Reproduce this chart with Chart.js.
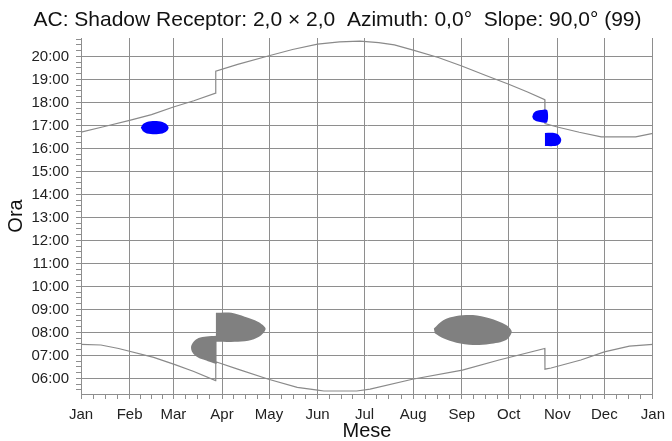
<!DOCTYPE html>
<html>
<head>
<meta charset="utf-8">
<script src="https://cdn.jsdelivr.net/npm/chart.js@4.4.1/dist/chart.umd.min.js"></script>
<style>
  html, body { margin: 0; padding: 0; background: #fff; }
  #wrap { width: 672px; height: 441px; }
</style>
</head>
<body>
<div id="wrap"><canvas id="shadowChart"></canvas></div>
<script>
// assi
const monthLabels = ['Jan', 'Feb', 'Mar', 'Apr', 'May', 'Jun', 'Jul', 'Aug', 'Sep', 'Oct', 'Nov', 'Dec', 'Jan'];
const monthStarts = [0, 31, 59, 90, 120, 151, 181, 212, 243, 273, 304, 334, 365];
const hourMin = 5.32;
const hourMax = 20.8;

// curva superiore (tramonto)
const sunsetDays  = [0, 15, 31, 45, 59, 72, 85.9, 86, 100, 120, 135, 151, 165, 178, 190, 200, 212, 228, 243, 258, 273, 285, 296, 296.1, 304, 318, 332, 354, 365];
const sunsetHours = [16.71, 16.95, 17.22, 17.47, 17.8, 18.07, 18.4, 19.36, 19.65, 20.03, 20.3, 20.53, 20.63, 20.66, 20.6, 20.5, 20.27, 19.95, 19.58, 19.18, 18.79, 18.45, 18.12, 17.08, 16.93, 16.7, 16.5, 16.5, 16.65];

// curva inferiore (alba)
const sunriseDays  = [0, 12.7, 24, 46.4, 60, 72, 85.9, 86, 100, 119.7, 138, 151, 155, 176, 184.5, 211.5, 243.4, 266.8, 296, 296.1, 300, 319, 334, 350, 365];
const sunriseHours = [7.48, 7.45, 7.3, 6.91, 6.6, 6.3, 5.9, 6.72, 6.4, 5.96, 5.61, 5.49, 5.45, 5.45, 5.53, 5.96, 6.36, 6.8, 7.3, 6.4, 6.45, 6.8, 7.15, 7.4, 7.48];

// zone d'ombra (contorni)
const febBlobDays  = [38.2, 39.5, 42, 47, 52, 54.6, 55.9, 54.6, 52, 47, 42, 39.5];
const febBlobHours = [16.9, 17.05, 17.15, 17.19, 17.15, 17.05, 16.9, 16.74, 16.65, 16.62, 16.65, 16.74];

const octBlobDays  = [288, 289, 291, 293.5, 297.5, 297.5, 293, 290, 288.6];
const octBlobHours = [17.38, 17.55, 17.64, 17.67, 17.67, 17.14, 17.15, 17.2, 17.27];

const novBlobDays  = [296.1, 302, 304.5, 306, 306.5, 306, 304.5, 302, 296.1];
const novBlobHours = [16.67, 16.67, 16.6, 16.47, 16.38, 16.25, 16.15, 16.1, 16.1];

const marBlobDays  = [86.5, 80, 75, 72, 70.3, 70.6, 72, 75, 79, 83, 86.5];
const marBlobHours = [7.85, 7.82, 7.75, 7.6, 7.4, 7.2, 7.05, 6.9, 6.8, 6.7, 6.62];

const aprBlobDays  = [86.1, 96, 104.5, 112.9, 117.8, 115, 108.7, 100.3, 86.1];
const aprBlobHours = [8.85, 8.85, 8.68, 8.46, 8.17, 7.88, 7.67, 7.59, 7.59];

const sepBlobDays  = [225.2, 231.2, 239.6, 250.2, 260.7, 271.3, 274.9, 271.3, 260.7, 250.2, 239.6, 231.2, 225.8];
const sepBlobHours = [8.17, 8.53, 8.71, 8.75, 8.61, 8.32, 8.03, 7.67, 7.49, 7.45, 7.55, 7.74, 7.96];

const GRID = '#8e8e8e';
const CURVE = '#8a8a8a';

const toPoints = (xs, ys) => xs.map((x, i) => ({ x: x, y: ys[i] }));

function curve(xs, ys) {
    return { data: toPoints(xs, ys), borderColor: CURVE, borderWidth: 1.2, pointRadius: 0, fill: false, tension: 0, order: 2 };
}

function blob(xs, ys, color) {
    return { data: toPoints(xs, ys), borderColor: color, backgroundColor: color, borderWidth: 0, pointRadius: 0, fill: 'shape', tension: 0.3, order: 1 };
}

// tacche secondarie: 4 per mese, 4 per ora
const xTicks = [];
monthStarts.forEach((m, i) => {
    xTicks.push(m);
    if (i < monthStarts.length - 1) {
        const len = monthStarts[i + 1] - m;
        for (let k = 1; k < 4; k++) xTicks.push(m + len * k / 4);
    }
});
const yTicks = [];
for (let h = 5.5; h <= 20.75; h += 0.25) yTicks.push(h);

Chart.defaults.font.family = "'Liberation Sans', Arial, sans-serif";
Chart.defaults.color = '#222';

new Chart(document.getElementById('shadowChart'), {
    type: 'line',
    data: {
        datasets: [
            curve(sunsetDays, sunsetHours),
            curve(sunriseDays, sunriseHours),
            blob(febBlobDays, febBlobHours, '#0000ff'),
            blob(octBlobDays, octBlobHours, '#0000ff'),
            blob(novBlobDays, novBlobHours, '#0000ff'),
            blob(marBlobDays, marBlobHours, '#808080'),
            blob(aprBlobDays, aprBlobHours, '#808080'),
            blob(sepBlobDays, sepBlobHours, '#808080')
        ]
    },
    options: {
        responsive: true,
        maintainAspectRatio: false,
        animation: false,
        // padding sinistro solo per centrare il titolo sulla pagina
        layout: { padding: { left: 17, right: 14, top: 0, bottom: 0 } },
        plugins: {
            legend: { display: false },
            tooltip: { enabled: false },
            title: {
                display: true,
                text: 'AC: Shadow Receptor: 2,0 × 2,0  Azimuth: 0,0°  Slope: 90,0° (99)',
                color: '#111',
                font: { size: 21, weight: 'normal' },
                padding: { top: 8, bottom: 4.8 }
            }
        },
        scales: {
            x: {
                type: 'linear',
                min: 0,
                max: 365,
                afterBuildTicks: (s) => { s.ticks = xTicks.map(v => ({ value: v })); },
                afterFit: (s) => { s.height = 47; },
                grid: {
                    color: (c) => (c.tick && monthStarts.includes(c.tick.value)) ? GRID : 'rgba(0,0,0,0)',
                    tickColor: GRID,
                    tickLength: 5,
                    lineWidth: 1
                },
                border: { color: GRID },
                ticks: {
                    autoSkip: false,
                    maxRotation: 0,
                    padding: 7,
                    font: { size: 15 },
                    callback: (v) => {
                        const i = monthStarts.indexOf(v);
                        return i >= 0 ? monthLabels[i] : '';
                    }
                },
                title: { display: true, text: 'Mese', color: '#111', font: { size: 20 }, padding: { top: 0, bottom: -2 } }
            },
            y: {
                type: 'linear',
                min: hourMin,
                max: hourMax,
                afterBuildTicks: (s) => { s.ticks = yTicks.map(v => ({ value: v })); },
                afterFit: (s) => { s.width = 64; },
                grid: {
                    color: (c) => (c.tick && Number.isInteger(c.tick.value)) ? GRID : 'rgba(0,0,0,0)',
                    tickColor: GRID,
                    tickLength: 5,
                    lineWidth: 1
                },
                border: { color: GRID },
                ticks: {
                    autoSkip: false,
                    padding: 7,
                    font: { size: 15 },
                    callback: (v) => Number.isInteger(v) ? String(v).padStart(2, '0') + ':00' : ''
                },
                title: { display: true, text: 'Ora', color: '#111', font: { size: 20 }, padding: { top: -13, bottom: 0 } }
            }
        }
    }
});
</script>
</body>
</html>
